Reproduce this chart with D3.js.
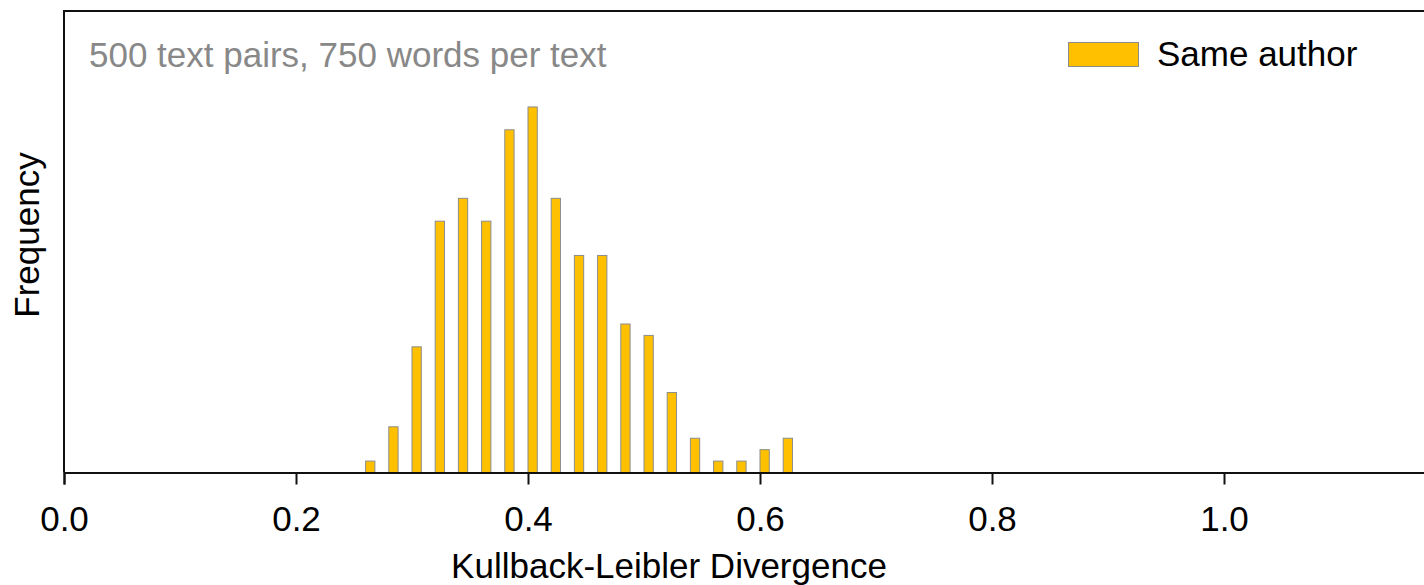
<!DOCTYPE html>
<html>
<head>
<meta charset="utf-8">
<script src="https://cdn.jsdelivr.net/npm/d3@7"></script>
<style>
  html, body { margin: 0; padding: 0; background: #fff; }
  svg { display: block; font-family: "Liberation Sans", Arial, Helvetica, sans-serif; }
</style>
</head>
<body>
<svg id="chart" width="1424" height="585"></svg>
<script>
// ---- data ----
const binStarts = [0.26, 0.28, 0.30, 0.32, 0.34, 0.36, 0.38, 0.40, 0.42, 0.44,
                   0.46, 0.48, 0.50, 0.52, 0.54, 0.56, 0.58, 0.60, 0.62];
const sameAuthorCounts = [1, 4, 11, 22, 24, 22, 30, 32, 24, 19,
                          19, 13, 12, 7, 3, 1, 1, 2, 3];
const xTicks = [0.0, 0.2, 0.4, 0.6, 0.8, 1.0];
const seriesName = "Same author";
const annotation = "500 text pairs, 750 words per text";
const xLabel = "Kullback-Leibler Divergence";
const yLabel = "Frequency";

const binWidth = 0.02;
const barFrac = 0.4;

const svg = d3.select("#chart");
const plotLeft = 64, plotTop = 11, plotBottom = 472.5;
const x = d3.scaleLinear().domain([0, 1.2]).range([plotLeft, plotLeft + 1392]);
const y = d3.scaleLinear().domain([0, 40.4]).range([plotBottom, plotTop]);

// bars
svg.append("g").selectAll("rect")
  .data(binStarts.map((b, i) => ({ b, c: sameAuthorCounts[i] })))
  .join("rect")
  .attr("x", d => x(d.b))
  .attr("width", d => x(d.b + binWidth * barFrac) - x(d.b))
  .attr("y", d => y(d.c))
  .attr("height", d => y(0) - y(d.c))
  .attr("fill", "#FFC000")
  .attr("stroke", "#8c8c8c")
  .attr("stroke-width", 1);

// frame: top and left spines
svg.append("line").attr("x1", plotLeft).attr("x2", 1424).attr("y1", plotTop).attr("y2", plotTop)
  .attr("stroke", "#111").attr("stroke-width", 2);
svg.append("line").attr("x1", plotLeft).attr("x2", plotLeft).attr("y1", plotTop - 1).attr("y2", plotBottom)
  .attr("stroke", "#111").attr("stroke-width", 2);

// x axis
const xAxis = d3.axisBottom(x).tickValues(xTicks).tickFormat(d3.format(".1f"))
  .tickSize(12).tickPadding(22);
const gx = svg.append("g").attr("transform", `translate(0,${plotBottom})`).call(xAxis);
gx.select(".domain").attr("stroke", "#111").attr("stroke-width", 2);
gx.selectAll(".tick line").attr("stroke", "#111").attr("stroke-width", 2);
gx.selectAll(".tick text").attr("fill", "#000").style("font-size", "35px")
  .style("font-family", "'Liberation Sans', Arial, sans-serif");

// axis labels
svg.append("text").attr("x", 669).attr("y", 578).attr("text-anchor", "middle")
  .style("font-size", "35px").attr("fill", "#000").text(xLabel);
svg.append("text").attr("transform", "translate(39,235) rotate(-90)")
  .attr("text-anchor", "middle").style("font-size", "35px").attr("fill", "#000").text(yLabel);

// annotation
svg.append("text").attr("x", 89).attr("y", 67).style("font-size", "35px")
  .attr("fill", "#888888").text(annotation);

// legend
svg.append("rect").attr("x", 1068.5).attr("y", 42.5).attr("width", 70).attr("height", 24)
  .attr("fill", "#FFC000").attr("stroke", "#8c8c8c").attr("stroke-width", 1);
svg.append("text").attr("x", 1157).attr("y", 66).style("font-size", "35px")
  .attr("fill", "#000").text(seriesName);
</script>
</body>
</html>
